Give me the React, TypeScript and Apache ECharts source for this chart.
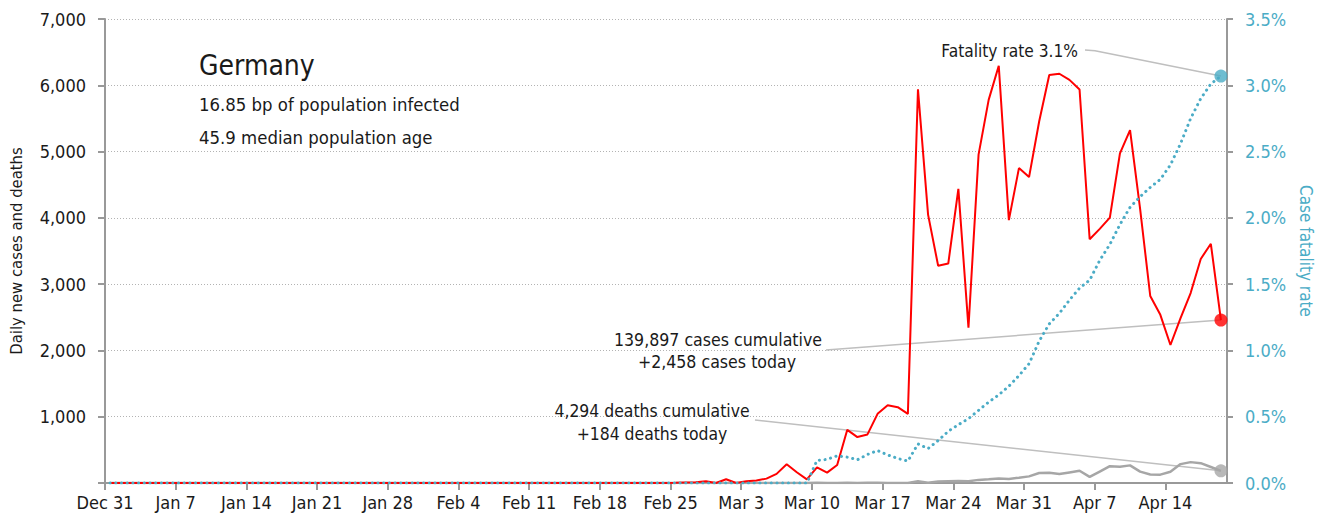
import React, { useEffect, useRef } from "react";
import * as echarts from "echarts";

// Days are counted from Dec 31 2019; each daily report is stamped at midday.
const REPORT_TIME_OF_DAY = 0.5;

const weekLabels = ["Dec 31", "Jan 7", "Jan 14", "Jan 21", "Jan 28", "Feb 4", "Feb 11", "Feb 18", "Feb 25", "Mar 3", "Mar 10", "Mar 17", "Mar 24", "Mar 31", "Apr 7", "Apr 14"];
const weekDays = [0, 7, 14, 21, 28, 35, 42, 49, 56, 63, 70, 77, 84, 91, 98, 105];

const dailyCases = [
  0, 0, 0, 0, 0, 0, 0, 0, 0, 0,
  0, 0, 0, 0, 0, 0, 0, 0, 0, 0,
  0, 0, 0, 0, 0, 0, 0, 0, 0, 0,
  0, 0, 0, 0, 0, 0, 0, 0, 0, 0,
  0, 0, 0, 0, 0, 0, 0, 0, 0, 0,
  0, 0, 0, 0, 0, 0, 2, 8, 12, 26,
  0, 57, 0, 28, 39, 66, 138, 284, 163, 55,
  237, 157, 271, 802, 693, 733, 1043, 1174, 1144, 1042,
  5940, 4049, 3276, 3311, 4438, 2342, 4954, 5780, 6294, 3965,
  4751, 4615, 5453, 6156, 6174, 6082, 5936, 3677, 3834, 4003,
  4974, 5323, 4133, 2821, 2537, 2082, 2486, 2866, 3380, 3609,
  2458,
];

const dailyDeaths = [
  0, 0, 0, 0, 0, 0, 0, 0, 0, 0,
  0, 0, 0, 0, 0, 0, 0, 0, 0, 0,
  0, 0, 0, 0, 0, 0, 0, 0, 0, 0,
  0, 0, 0, 0, 0, 0, 0, 0, 0, 0,
  0, 0, 0, 0, 0, 0, 0, 0, 0, 0,
  0, 0, 0, 0, 0, 0, 0, 0, 0, 0,
  0, 0, 0, 0, 0, 0, 0, 0, 0, 0,
  2, 0, 1, 2, 0, 3, 4, 1, 0, 0,
  25, 5, 22, 28, 31, 25, 47, 56, 67, 61,
  80, 100, 150, 155, 135, 160, 184, 92, 173, 254,
  246, 266, 171, 129, 126, 170, 285, 315, 299, 242,
  184,
];

const fatalityRatePct = [
  0, 0, 0, 0, 0, 0, 0, 0, 0, 0,
  0, 0, 0, 0, 0, 0, 0, 0, 0, 0,
  0, 0, 0, 0, 0, 0, 0, 0, 0, 0,
  0, 0, 0, 0, 0, 0, 0, 0, 0, 0,
  0, 0, 0, 0, 0, 0, 0, 0, 0, 0,
  0, 0, 0, 0, 0, 0, 0, 0, 0, 0,
  0, 0, 0, 0, 0, 0, 0, 0, 0, 0,
  0.17, 0.178, 0.205, 0.195, 0.175, 0.215, 0.245, 0.212, 0.185, 0.165,
  0.295, 0.26, 0.32, 0.39, 0.44, 0.485, 0.548, 0.61, 0.665, 0.73,
  0.81, 0.9, 1.07, 1.2, 1.28, 1.38, 1.47, 1.53, 1.68, 1.8,
  1.95, 2.08, 2.16, 2.23, 2.29, 2.4, 2.56, 2.75, 2.9, 3.01,
  3.07,
];

const casesAxisMax = 7000;
const casesAxisStep = 1000;
const rateAxisMax = 3.5;
const rateAxisStep = 0.5;
const xAxisEnd = 111.1;

const titleText = "Germany";
const infoLines = ["16.85 bp of population infected", "45.9 median population age"];
const rateNote = "Fatality rate 3.1%";
const casesNote = ["139,897 cases cumulative", "+2,458 cases today"];
const deathsNote = ["4,294 deaths cumulative", "+184 deaths today"];

const FONT = "'Liberation Sans Narrow', 'Arial Narrow', 'DejaVu Sans Condensed', sans-serif";
const RED = "#ff0000";
const GREY = "#a6a6a6";
const BLUE = "#4bacc6";
const AXIS = "#999999";
const TEXT = "#1a1a1a";

const toPoints = (vals: number[]) => vals.map((v, i) => [i + REPORT_TIME_OF_DAY, v]);

export default function App() {
  const ref = useRef<HTMLDivElement>(null);
  useEffect(() => {
    if (!ref.current) return;
    const chart = echarts.init(ref.current, undefined, { renderer: "svg" });
    const last = dailyCases.length - 1;
    const lastX = last + REPORT_TIME_OF_DAY;
    const option: any = {
      animation: false,
      backgroundColor: "#ffffff",
      textStyle: { fontFamily: FONT },
      grid: { left: 102, right: 100, top: 19, bottom: 40 },
      xAxis: {
        type: "value",
        min: 0,
        max: xAxisEnd,
        axisLine: { show: true, onZero: false, lineStyle: { color: AXIS, width: 2 } },
        axisTick: { show: true, customValues: weekDays, length: 7, lineStyle: { color: AXIS, width: 2 } },
        axisLabel: {
          customValues: weekDays,
          formatter: (v: number) => weekLabels[weekDays.indexOf(Math.round(v))] ?? "",
          color: TEXT, fontFamily: FONT, fontSize: 18, margin: 10,
        },
        splitLine: { show: false },
      },
      yAxis: [
        {
          type: "value",
          min: 0,
          max: casesAxisMax,
          interval: casesAxisStep,
          name: "Daily new cases and deaths",
          nameLocation: "middle",
          nameRotate: 90,
          nameGap: 80,
          nameTextStyle: { color: TEXT, fontFamily: FONT, fontSize: 16.5 },
          axisLine: { show: true, lineStyle: { color: AXIS, width: 2 } },
          axisTick: { show: true, length: 7, lineStyle: { color: AXIS, width: 2 } },
          axisLabel: {
            formatter: (v: number) => (v === 0 ? "" : v.toLocaleString("en-US")),
            color: TEXT, fontFamily: FONT, fontSize: 18, margin: 19,
          },
          splitLine: { show: true, lineStyle: { color: "#b3b3b3", width: 1, type: [1, 2] } },
        },
        {
          type: "value",
          position: "right",
          min: 0,
          max: rateAxisMax,
          interval: rateAxisStep,
          name: "Case fatality rate",
          nameLocation: "middle",
          nameRotate: -90,
          nameGap: 66,
          nameTextStyle: { color: BLUE, fontFamily: FONT, fontSize: 17 },
          axisLine: { show: true, lineStyle: { color: AXIS, width: 2 } },
          axisTick: { show: true, length: 6, lineStyle: { color: AXIS, width: 2 } },
          axisLabel: {
            formatter: (v: number) => v.toFixed(1) + "%",
            color: BLUE, fontFamily: FONT, fontSize: 18, margin: 18,
          },
          splitLine: { show: false },
        },
      ],
      series: [
        {
          name: "deaths", type: "line", yAxisIndex: 0, data: toPoints(dailyDeaths), showSymbol: false,
          lineStyle: { color: GREY, width: 2.5 }, z: 2,
        },
        {
          name: "cases", type: "line", yAxisIndex: 0, data: toPoints(dailyCases), showSymbol: false,
          lineStyle: { color: RED, width: 2 }, z: 3,
        },
        {
          name: "rate", type: "line", yAxisIndex: 1, data: toPoints(fatalityRatePct), showSymbol: false,
          lineStyle: { color: BLUE, width: 3, type: [0.1, 5.6], cap: "round" }, z: 4,
        },
        {
          type: "scatter", yAxisIndex: 0, data: [[lastX, dailyDeaths[last]]], symbolSize: 13,
          itemStyle: { color: GREY }, z: 5,
        },
        {
          type: "scatter", yAxisIndex: 0, data: [[lastX, dailyCases[last]]], symbolSize: 13,
          itemStyle: { color: RED }, z: 5,
        },
        {
          type: "scatter", yAxisIndex: 1, data: [[lastX, fatalityRatePct[last]]], symbolSize: 13,
          itemStyle: { color: BLUE }, z: 5,
        },
      ],
    };
    chart.setOption(option);

    const pDeath = chart.convertToPixel({ seriesIndex: 0 }, [lastX, dailyDeaths[last]]) as number[];
    const pCase = chart.convertToPixel({ seriesIndex: 1 }, [lastX, dailyCases[last]]) as number[];
    const pRate = chart.convertToPixel({ seriesIndex: 2 }, [lastX, fatalityRatePct[last]]) as number[];
    const leader = { stroke: "#bfbfbf", lineWidth: 1.5, fill: null };
    const txt = (text: string, x: number, y: number, size: number, align: string, extra: any = {}) => ({
      type: "text", x, y, z: 10,
      style: { text, fontSize: size, fontFamily: FONT, fill: TEXT, align, verticalAlign: "middle", ...extra },
    });
    chart.setOption({
      graphic: [
        txt(titleText, 199, 65, 28, "left"),
        txt(infoLines[0], 199, 104, 18.4, "left"),
        txt(infoLines[1], 199, 137, 18.4, "left"),
        txt(rateNote, 1078, 51, 17.2, "right"),
        txt(casesNote[0], 718, 340, 17.6, "center"),
        txt(casesNote[1], 717, 362, 17.6, "center"),
        txt(deathsNote[0], 652, 411, 17.4, "center"),
        txt(deathsNote[1], 652, 434, 17.4, "center"),
        { type: "polyline", z: 1, shape: { points: [[1085, 50], [1095, 50.7], [pRate[0], pRate[1]]] }, style: leader },
        { type: "polyline", z: 1, shape: { points: [[826, 350], [pCase[0], pCase[1]]] }, style: leader },
        { type: "polyline", z: 1, shape: { points: [[755, 420], [pDeath[0], pDeath[1]]] }, style: leader },
      ],
    });
    return () => chart.dispose();
  }, []);
  return (
    <div
      ref={ref}
      style={{ position: "fixed", left: 0, top: 0, width: 1327, height: 523, background: "#fff" }}
    />
  );
}
